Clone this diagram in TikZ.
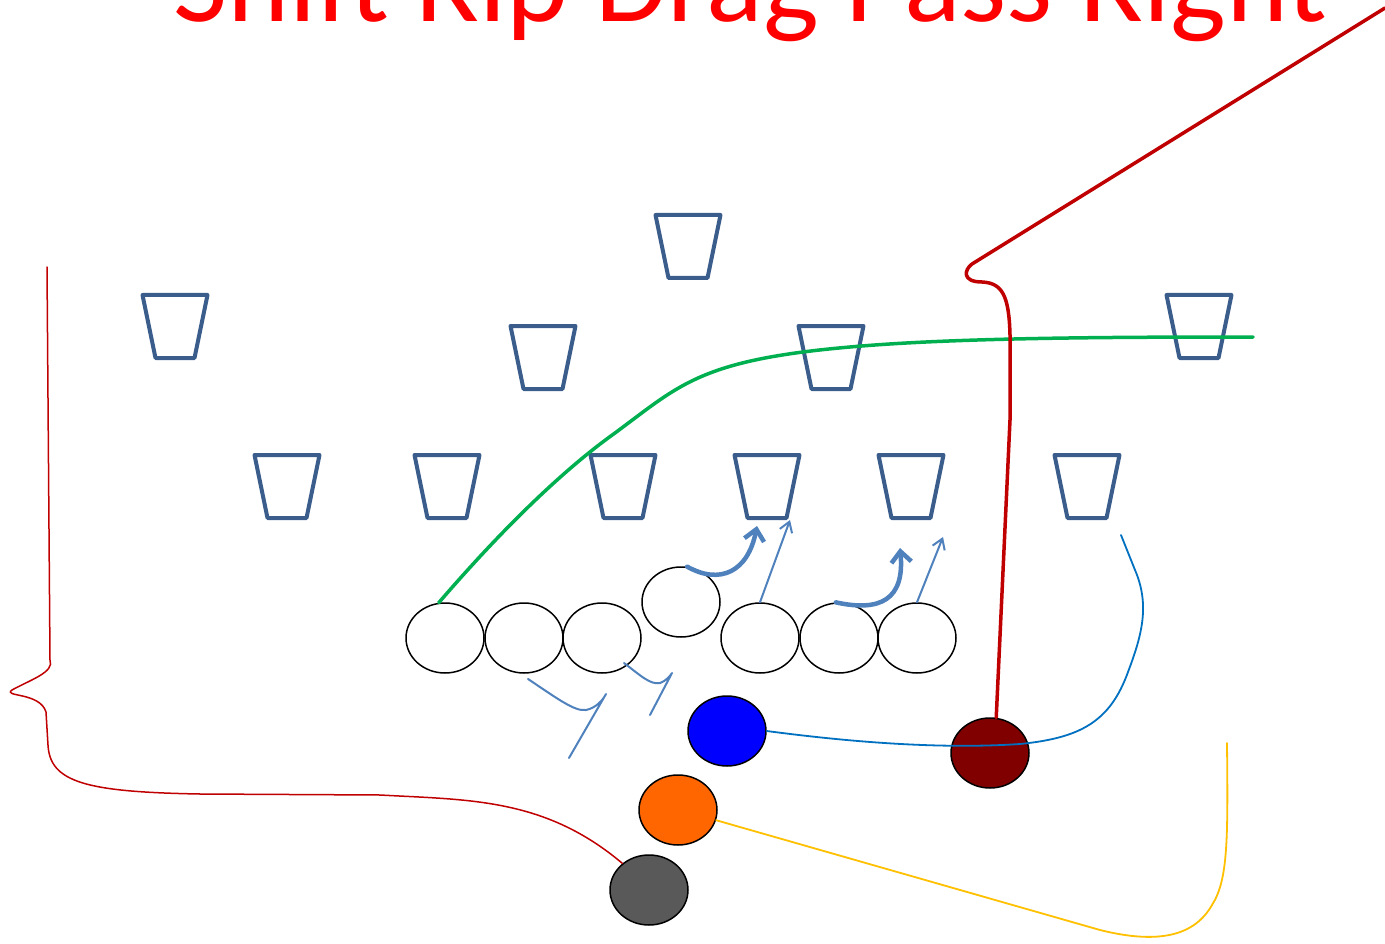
\documentclass[tikz,border=0pt]{standalone}
\usepackage{fontspec}
\setmainfont{Carlito}
\usetikzlibrary{shapes.geometric,arrows.meta}
\definecolor{dblue}{HTML}{3A5D8C}
\definecolor{ablue}{HTML}{4F81BD}
\definecolor{lblue}{HTML}{0070C0}
\definecolor{dred}{HTML}{C00000}
\definecolor{pmaroon}{HTML}{800000}
\definecolor{pgold}{HTML}{FFC000}
\definecolor{pgreen}{HTML}{00B050}
\definecolor{pgray}{HTML}{595959}
\definecolor{porange}{HTML}{FF6600}
\begin{document}
\begin{tikzpicture}[x=1pt,y=-1pt,
  dline/.style={draw=dblue,line width=4pt,line join=round},
  defender/.pic={\draw[dline] (-32.5,0) -- (-19.5,63) -- (19.5,63) -- (32.5,0) -- cycle;},
  player/.style={ellipse,draw=black,line width=1.5pt,minimum width=78pt,minimum height=70pt,inner sep=0pt},
  lineman/.style={player,fill=white},
  route/.style={line width=#1,line cap=round,line join=round},
  thickarrow/.style={draw=ablue,line width=4.5pt,line cap=round,-{Straight Barb[length=11pt,width=20pt]}},
  thinarrow/.style={draw=ablue,line width=2pt,line cap=round,-{Straight Barb[length=10pt,width=13pt]}},
  block/.style={draw=ablue,line width=2pt,line cap=round,line join=round}]
\useasboundingbox (0,0) rectangle (1385,944);

% title
\node[anchor=base,text=red,font=\fontsize{118}{118}\selectfont,inner sep=0pt] (title) at (750,22) {Shift Rip Drag Pass Right};

% defenders
\pic at (688,215) {defender};
\pic at (175,295) {defender};
\pic at (1199,295) {defender};
\pic at (543,326) {defender};
\pic at (831,326) {defender};
\foreach \xx in {287,447,623,767,911,1087} {\pic at (\xx,455) {defender};}

% offensive line
\node[lineman] (lt) at (445,638) {};
\node[lineman] (lg) at (524,638) {};
\node[lineman] (lc) at (602,638) {};
\node[lineman] (ctr) at (681,602) {};
\node[lineman] (rg) at (760,638) {};
\node[lineman] (rt) at (839,638) {};
\node[lineman] (te) at (917,638) {};

% backs
\node[player,fill=blue] (bb) at (727,731) {};
\node[player,fill=pmaroon] (mb) at (990,753) {};
\node[player,fill=porange] (ob) at (678,810) {};
\node[player,fill=pgray] (gb) at (649,890) {};

% green route
\draw[route=3.5pt,draw=pgreen] (lt.100) .. controls (510,520) and (570,465) .. (615,433)
  .. controls (680,385) and (700,360) .. (850,347)
  .. controls (950,338) and (1100,337) .. (1253,337);

% dark red route
\coordinate (redend) at (1385,8);
\draw[route=3.5pt,draw=dred] (mb.80) -- (1010,420) -- (1010,335)
  .. controls (1009,295) and (1002,283) .. (982,282)
  .. controls (962,282) and (964,270) .. (972,264) -- (redend);

% left brace
\coordinate (bracetop) at (47,267);
\draw[route=1.5pt,draw=dred] (bracetop) -- (50,660) .. controls (55,672) and (30,680) .. (12,690)
  .. controls (2,697) and (40,692) .. (46,712) -- (48,745)
  .. controls (50,782) and (85,792) .. (200,794) -- (380,795)
  .. controls (470,800) and (545,798) .. (gb.135);

% blue route
\coordinate (blueend) at (1121,535);
\draw[route=1.8pt,draw=lblue] (bb.east) .. controls (880,746) and (960,748) .. (1020,744)
  .. controls (1080,738) and (1110,722) .. (1128,672)
  .. controls (1142,635) and (1150,605) .. (1135,570) -- (blueend);

% gold route
\coordinate (goldend) at (1227,743);
\draw[route=1.8pt,draw=pgold] (ob.-15) -- (1100,930)
  .. controls (1160,945) and (1195,935) .. (1212,905)
  .. controls (1228,880) and (1228,840) .. (goldend);

% blocking arrows
\coordinate (a1) at (757,526);
\coordinate (a2) at (790,520);
\coordinate (a3) at (900,548);
\coordinate (a4) at (943,537);
\draw[thickarrow] (ctr.80) .. controls (720,585) and (748,572) .. (a1);
\draw[thinarrow] (rg.north) -- (a2);
\draw[thickarrow] (rt.95) .. controls (880,612) and (905,600) .. (a3);
\draw[thinarrow] (te.north) -- (a4);

% blocking marks
\coordinate (m1) at (569,758);
\coordinate (m2) at (650,715);
\draw[block] (528,679) .. controls (555,697) and (575,712) .. (586,710)
  .. controls (596,708) and (603,700) .. (606,694) -- (m1);
\draw[block] (624,663) .. controls (640,675) and (650,685) .. (660,683)
  .. controls (666,681) and (670,676) .. (672,673) -- (m2);
\end{tikzpicture}
\end{document}
